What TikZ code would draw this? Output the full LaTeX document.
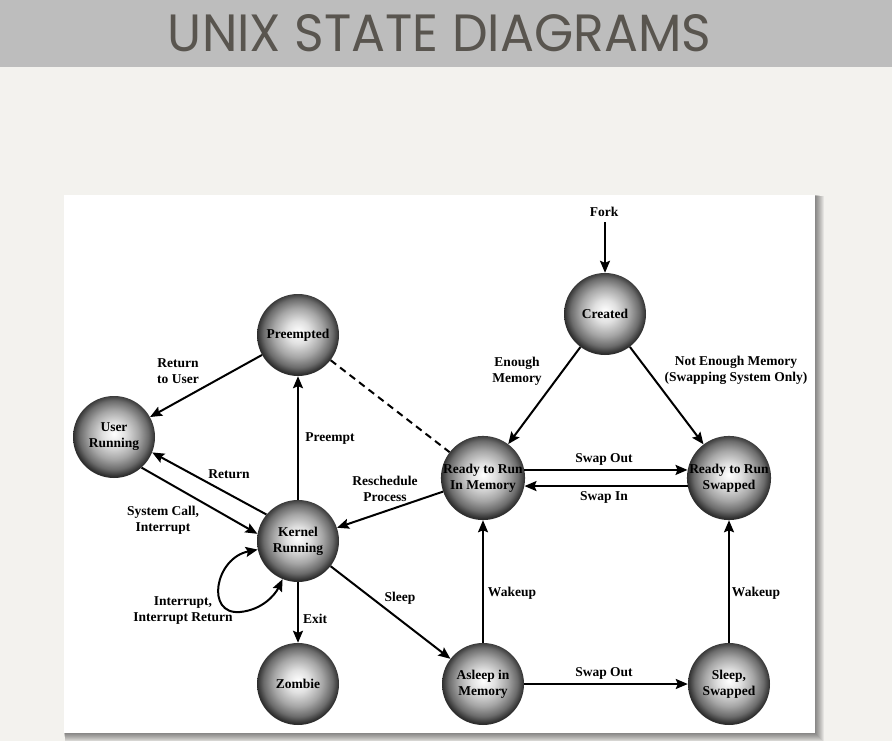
\documentclass[tikz,border=0pt]{standalone}
\usepackage{fontspec}
\setmainfont{Liberation Serif}
\newfontfamily\titlefont{Poppins}
\usetikzlibrary{arrows.meta}
\definecolor{bgc}{HTML}{F3F2EE}
\definecolor{bannerc}{HTML}{BDBDBD}
\definecolor{titlec}{HTML}{59554F}
\pgfdeclareradialshading{sphere}{\pgfpoint{0bp}{2bp}}{color(0bp)=(white); color(7bp)=(white!88!black); color(15bp)=(black!35); color(21bp)=(black!58); color(25bp)=(black!82); color(50bp)=(black!82)}
\begin{document}
\begin{tikzpicture}[x=1pt,y=-1pt,
  statenode/.style={circle, minimum size=82pt, inner sep=0pt, shading=sphere, align=center,
    font=\fontsize{13.5}{16}\selectfont\bfseries},
  lbl/.style={align=center, inner sep=0pt, font=\fontsize{13.5}{16}\selectfont\bfseries},
  edge/.style={line width=2pt, -{Stealth[length=12pt,width=10pt,inset=2pt]}},
  plain/.style={line width=2pt}]
\useasboundingbox (0,0) rectangle (892,741);
\fill[bgc] (0,0) rectangle (892,741);
\fill[bannerc] (0,0) rectangle (892,67);
\node[inner sep=0pt, text=titlec] (title) at (439.5,33.5) {\resizebox{543pt}{37pt}{\titlefont UNIX STATE DIAGRAMS}};
% panel shadow
\foreach \i in {1,...,9} {
  \fill[black, opacity=0.06] (64+\i*0.1,195+\i*0.1) rectangle (815+\i,733+\i);
}
\fill[white] (64,195) rectangle (815,733);
% states
\node[statenode] (cr) at (605,314) {Created};
\node[statenode] (pr) at (298,335) {Preempted};
\node[statenode] (ur) at (114,437) {User\\Running};
\node[statenode] (kr) at (298,541) {Kernel\\Running};
\node[statenode] (rm) at (483,478) {Ready to Run\\In Memory};
\node[statenode] (rs) at (729,478) {Ready to Run\\Swapped};
\node[statenode] (zo) at (298,684) {Zombie};
\node[statenode] (am) at (483,684) {Asleep in\\Memory};
\node[statenode] (ss) at (729,684) {Sleep,\\Swapped};
\coordinate (forkstart) at (605,222);
% labels
\node[lbl] (lfork) at (604,212) {Fork};
\node[lbl] (lenough) at (517,371.5) {Enough\\Memory};
\node[lbl] (lnotenough) at (736,370) {Not Enough Memory\\(Swapping System Only)};
\node[lbl] (lretuser) at (178,371) {Return\\to User};
\node[lbl] (lpreempt) at (330,439) {Preempt};
\node[lbl] (lreturn) at (229,474) {Return};
\node[lbl] (lsyscall) at (163,520.5) {System Call,\\Interrupt};
\node[lbl] (lresched) at (385,488.5) {Reschedule\\Process};
\node[lbl] (lswapout) at (604,459) {Swap Out};
\node[lbl] (lswapin) at (604,497) {Swap In};
\node[lbl] (lintr) at (183,611) {Interrupt,\\Interrupt Return};
\node[lbl] (lexit) at (315,619) {Exit};
\node[lbl] (lsleep) at (400,598) {Sleep};
\node[lbl] (lwake1) at (512,593) {Wakeup};
\node[lbl] (lwake2) at (756,593) {Wakeup};
\node[lbl] (lswapout2) at (604,673) {Swap Out};
% connectors
\draw[edge] (forkstart) -- (cr);
\draw[edge] (cr) -- (rm);
\draw[edge] (cr) -- (rs);
\draw[edge] (rm.11) -- (rs.169);
\draw[edge] (rs.191) -- (rm.349);
\draw[edge] (rm) -- (kr);
\draw[plain, dash pattern=on 7pt off 5pt] (pr) -- (rm);
\draw[edge] (kr) -- (pr);
\draw[edge] (pr) -- (ur);
\draw[edge] (kr.140) -- (ur.338);
\draw[edge] (ur.312) -- (kr.170);
\draw[line width=2pt, {Stealth[length=12pt,width=10pt,inset=2pt]}-{Stealth[length=12pt,width=10pt,inset=2pt]}]
  (kr.192) .. controls (215,558) and (205,615) .. (240,612) .. controls (262,610) and (275,595) .. (kr.248);
\draw[edge] (kr) -- (zo);
\draw[edge] (kr) -- (am);
\draw[edge] (am) -- (rm);
\draw[edge] (am) -- (ss);
\draw[edge] (ss) -- (rs);
\end{tikzpicture}
\end{document}
